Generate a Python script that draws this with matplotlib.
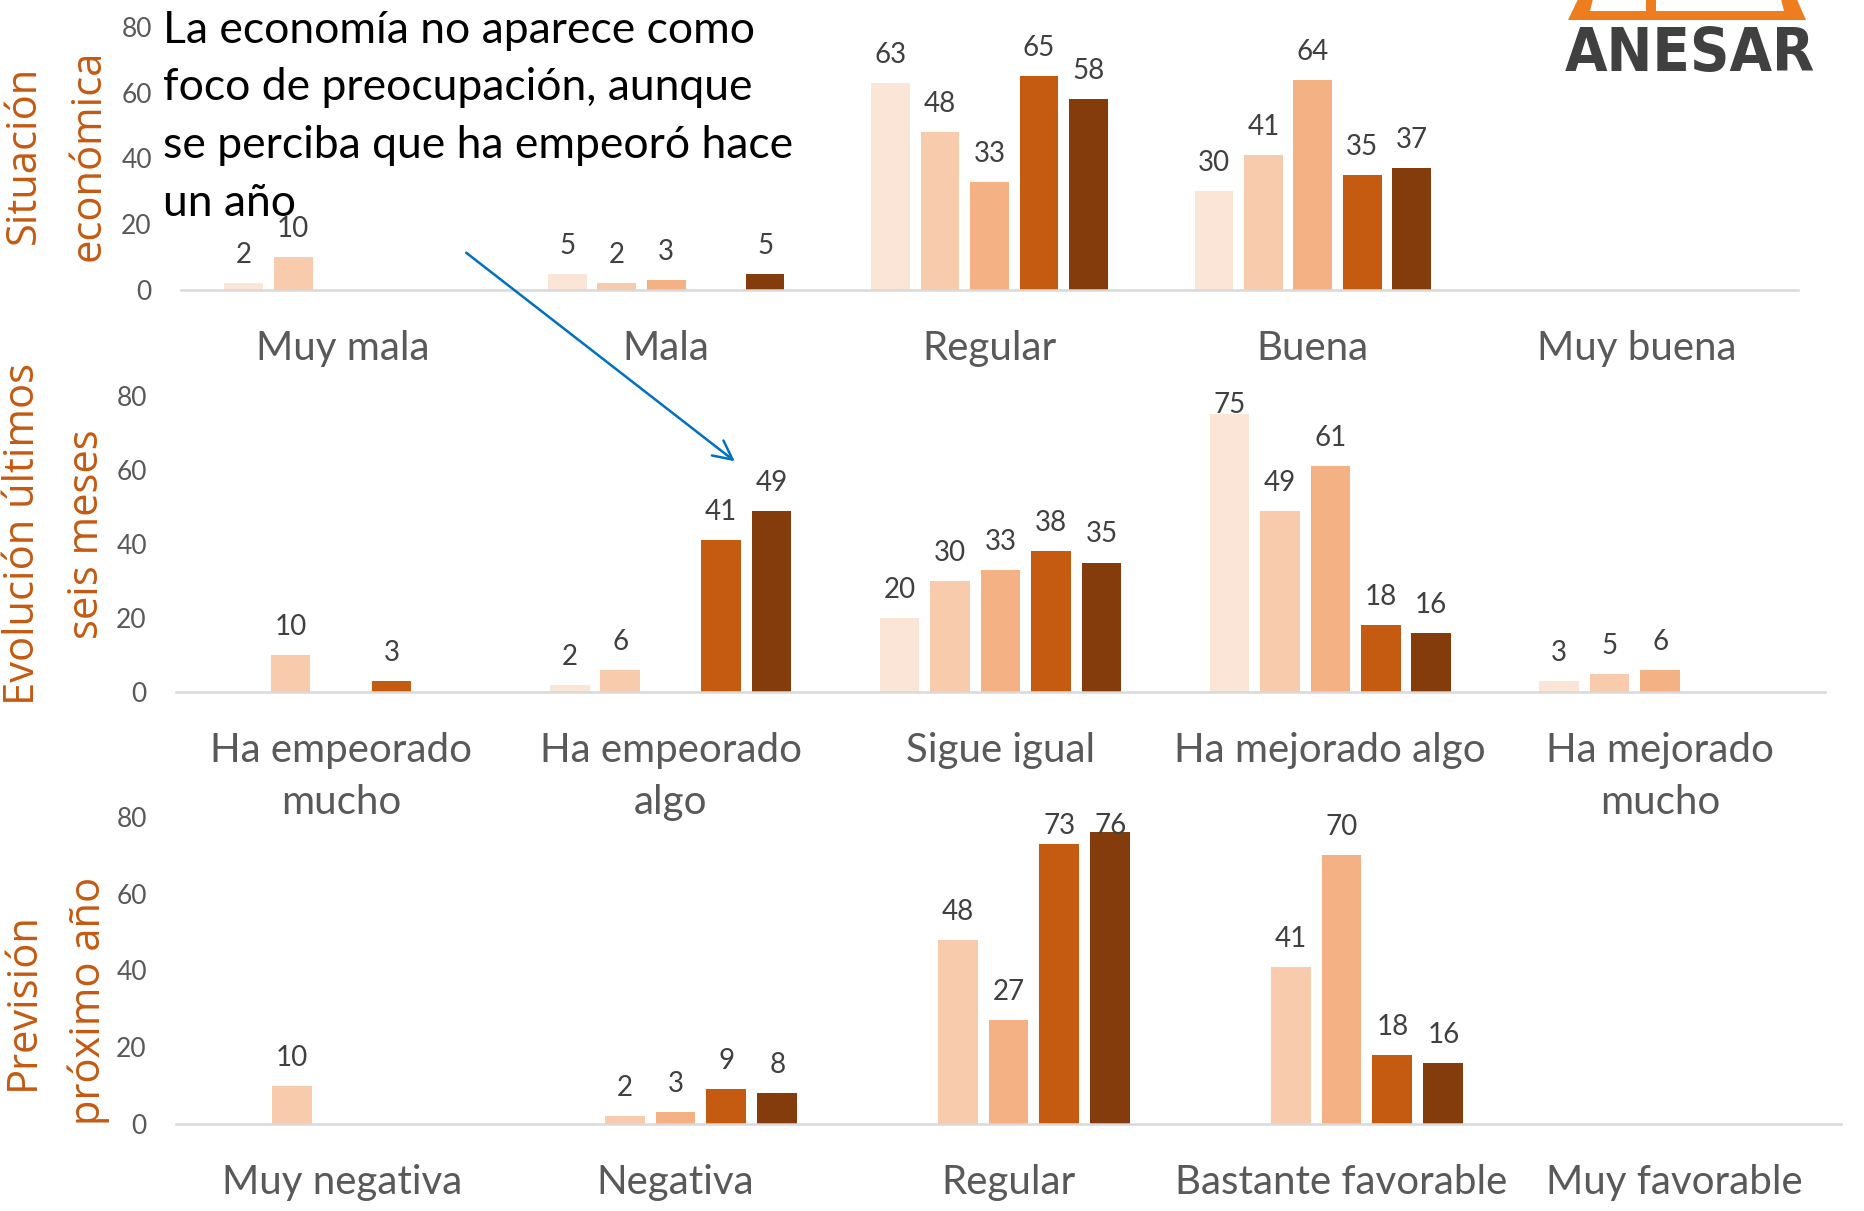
import numpy as np
import matplotlib
matplotlib.use("Agg")
import matplotlib.pyplot as plt
from matplotlib.patches import Polygon

nan = np.nan

# five series, light -> dark
colors = ["#FBE5D6", "#F8CBAD", "#F4B183", "#C55A11", "#843C0C"]

# panel 1 - situacion economica
cats_sit = ["Muy mala", "Mala", "Regular", "Buena", "Muy buena"]
sit_s1 = [2, 5, 63, 30, nan]
sit_s2 = [10, 2, 48, 41, nan]
sit_s3 = [nan, 3, 33, 64, nan]
sit_s4 = [nan, nan, 65, 35, nan]
sit_s5 = [nan, 5, 58, 37, nan]

# panel 2 - evolucion ultimos seis meses
cats_evo = ["Ha empeorado\nmucho", "Ha empeorado\nalgo", "Sigue igual",
            "Ha mejorado algo", "Ha mejorado\nmucho"]
evo_s1 = [nan, 2, 20, 75, 3]
evo_s2 = [10, 6, 30, 49, 5]
evo_s3 = [nan, nan, 33, 61, 6]
evo_s4 = [3, 41, 38, 18, nan]
evo_s5 = [nan, 49, 35, 16, nan]

# panel 3 - prevision proximo año
cats_prev = ["Muy negativa", "Negativa", "Regular", "Bastante favorable",
             "Muy favorable"]
prev_s1 = [nan, nan, nan, nan, nan]
prev_s2 = [10, 2, 48, 41, nan]
prev_s3 = [nan, 3, 27, 70, nan]
prev_s4 = [nan, 9, 73, 18, nan]
prev_s5 = [nan, 8, 76, 16, nan]

yticks = [0, 20, 40, 60, 80]

plt.rcParams["font.family"] = ["Lato", "DejaVu Sans"]

fig = plt.figure(figsize=(18.64, 12.11), dpi=100)

W, H = 1864.0, 1211.0


def add_axes(x0, x1, y0, y80):
    return fig.add_axes([x0 / W, 1 - y0 / H, (x1 - x0) / W, (y0 - y80) / H])


def label_bar(ax, xc, v):
    top_px = ax.transAxes.transform((0, 1))[1]
    bar_px = ax.transData.transform((0, v))[1]
    kw = dict(ha="center", fontsize=20, color="#404040",
              textcoords="offset pixels", annotation_clip=False)
    if bar_px + 40 > top_px + 3:
        # excel keeps the label inside the plot area
        ax.annotate(f"{v:.0f}", xy=(xc, 1), xycoords=("data", "axes fraction"),
                    xytext=(0, 4), va="top", **kw)
    else:
        ax.annotate(f"{v:.0f}", xy=(xc, v), xytext=(0, 20), va="baseline", **kw)


def draw_panel(ax, cats, series):
    x = np.arange(len(cats))
    step, width = 0.153, 0.12
    ax.set_xlim(-0.5, len(cats) - 0.5)
    ax.set_ylim(0, 80)
    for i, vals in enumerate(series):
        vals = np.array(vals, dtype=float)
        ok = ~np.isnan(vals)
        pos = x + (i - 2) * step
        bars = ax.bar(pos[ok], vals[ok], width, color=colors[i], zorder=2)
        for b, v in zip(bars, vals[ok]):
            label_bar(ax, b.get_x() + b.get_width() / 2, v)

    for s in ["top", "right", "left"]:
        ax.spines[s].set_visible(False)
    ax.spines["bottom"].set_color("#D9D9D9")
    ax.spines["bottom"].set_linewidth(1.8)
    ax.set_yticks(yticks)
    ax.set_xticks(x)
    ax.set_xticklabels(cats, fontsize=29, color="#595959", linespacing=1.5)
    ax.tick_params(axis="x", length=0, pad=29)
    ax.tick_params(axis="y", length=0, pad=21, labelsize=19, labelcolor="#595959")
    ax.patch.set_alpha(0)


ax1 = add_axes(181, 1798, 290, 27)
ax2 = add_axes(176, 1825, 692, 396)
ax3 = add_axes(176, 1841, 1124, 817)

draw_panel(ax1, cats_sit, [sit_s1, sit_s2, sit_s3, sit_s4, sit_s5])
draw_panel(ax2, cats_evo, [evo_s1, evo_s2, evo_s3, evo_s4, evo_s5])
draw_panel(ax3, cats_prev, [prev_s1, prev_s2, prev_s3, prev_s4, prev_s5])

# vertical panel titles
title_kw = dict(rotation=90, ha="center", va="center", color="#C55A11",
                fontsize=30, family=["Open Sans", "DejaVu Sans"],
                linespacing=1.7, multialignment="center")
fig.text(56 / W, 1 - 155 / H, "Situación\neconómica", **title_kw)
fig.text(55 / W, 1 - 534 / H, "Evolución últimos\nseis meses", **title_kw)
fig.text(56 / W, 1 - 1001 / H, "Previsión\npróximo año", **title_kw)

# comment on top
fig.text(163 / W, 1 - 10 / H,
         "La economía no aparece como\nfoco de preocupación, aunque\n"
         "se perciba que ha empeoró hace\nun año",
         ha="left", va="top", fontsize=32, color="black", linespacing=1.5)

ax1.annotate("", xy=(737 / W, 1 - 463 / H), xycoords="figure fraction",
             xytext=(464 / W, 1 - 251 / H), textcoords="figure fraction",
             arrowprops=dict(arrowstyle="->", color="#0070C0", lw=1.8,
                             mutation_scale=34),
             annotation_clip=False, zorder=5)

# ANESAR logo (top right, cut by the border)
outer = [(1568, 20), (1806, 20), (1795, -5), (1580, -5)]
inner = [(1590, 11), (1784, 11), (1780, -5), (1594, -5)]
for pts, c in [(outer, "#EE7D1F"), (inner, "white")]:
    fig.add_artist(Polygon([(px / W, 1 - py / H) for px, py in pts],
                           closed=True, transform=fig.transFigure,
                           facecolor=c, edgecolor="none"))
fig.add_artist(Polygon([(px / W, 1 - py / H) for px, py in
                        [(1646, 11), (1656, 11), (1656, -5), (1646, -5)]],
                       closed=True, transform=fig.transFigure,
                       facecolor="#EE7D1F", edgecolor="none"))
fig.text(1690 / W, 1 - 55 / H, "ANESAR", ha="center", va="center",
         fontsize=44, fontweight="bold", fontstretch="condensed",
         family="DejaVu Sans", color="#404040")

fig.savefig("out.png", dpi=100)
